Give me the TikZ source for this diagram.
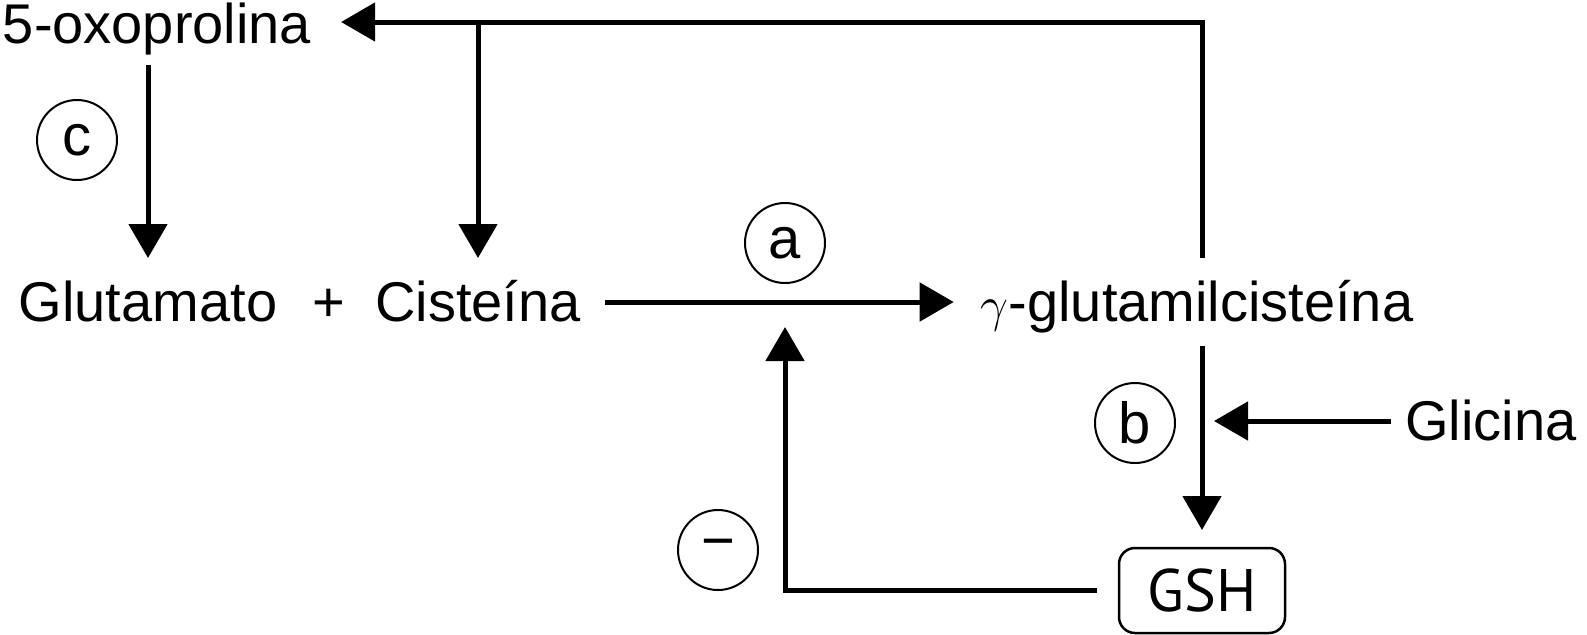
\documentclass[tikz,border=0pt]{standalone}
\usepackage{fontspec}
\setmainfont{Liberation Sans}
\newfontfamily\gshfont{PT Sans}
\usetikzlibrary{arrows.meta}
\begin{document}
\begin{tikzpicture}[x=0.5pt,y=-0.5pt,
  lbl/.style={inner sep=0pt, outer xsep=0pt, outer ysep=12.5pt, text height=19pt, text depth=0pt,
    font=\fontsize{28}{33}\selectfont, anchor=base},
  arr/.style={line width=2.5pt, -{Triangle[length=17pt,width=19pt]}},
  enz/.style={circle, draw, line width=1pt, minimum size=40pt, inner sep=0pt,
    font=\fontsize{29}{34}\selectfont},
  gshbox/.style={draw, rounded corners=8pt, line width=1.25pt, minimum width=83pt,
    minimum height=42.5pt, inner sep=0pt, outer xsep=11pt, outer ysep=9pt,
    font=\gshfont\fontsize{30}{34}\selectfont}
]
\useasboundingbox (0,0) rectangle (1587,634);

\node[lbl, outer xsep=15pt, outer ysep=11pt, text height=21pt] (oxo) at (157,43) {5-oxoprolina};
\node[lbl] (glu) at (148,321) {Glutamato};
\node[lbl, outer ysep=0pt] (plus) at (329,321) {+};
\node[lbl, outer xsep=12pt] (cis) at (478,321) {Cisteína};
\node[lbl, outer xsep=13.5pt] (gam) at (1197,321) {$\gamma$-glutamilcisteína};
\node[lbl, outer xsep=7pt] (gli) at (1491,440) {Glicina};
\node[gshbox] (gsh) at (1202,590.5) {GSH};

\node[enz] (ec) at (77,140) {c};
\node[enz] (ea) at (785,243) {a};
\node[enz] (eb) at (1135,423) {b};
\node[enz] (em) at (718,550) {−};

\coordinate (inh) at (785,327);

\draw[arr] (cis.east) -- (gam.west);
\draw[arr] (gsh.north |- gam.north) |- (oxo.east);
\draw[arr] (cis.north |- oxo.east) -- (cis.north);
\draw[arr] (glu.north |- oxo.south) -- (glu.north);
\draw[arr] (gsh.north |- gam.south) -- (gsh.north);
\draw[arr, shorten >=6pt] (gli.west) -- (gli.west -| gsh.north);
\draw[arr] (gsh.west) -| (inh);
\end{tikzpicture}
\end{document}
